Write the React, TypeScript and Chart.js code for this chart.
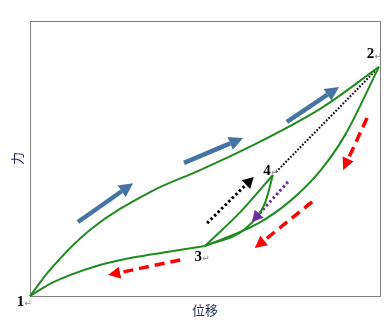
import React, { useEffect, useRef } from 'react';
import { Chart, registerables } from 'chart.js';
Chart.register(...registerables);

// ---- data (x: displacement 0..100, y: force 0..100) ----
const LOADING_CURVE: [number, number][] = [
  [0, 0], [5.7, 9.5], [17.1, 24], [34.3, 37.8], [48.6, 45.8], [64.9, 55.6],
  [83.7, 68.7], [99.7, 83.3],
];
const UNLOAD_3_TO_1: [number, number][] = [
  [0, 0], [5.7, 4.4], [11.4, 7.6], [20, 11.3], [29.4, 14], [39.1, 16], [50, 18.2],
];
const UNLOAD_2_TO_3: [number, number][] = [
  [50, 18.2], [64.9, 26.2], [74.3, 34.5], [82.9, 45.5], [90, 58.5], [99.7, 83.3],
];
const RELOAD_3_TO_4: [number, number][] = [[50, 18.2], [60, 30.4], [69.4, 44]];
const UNLOAD_4_TO_3: [number, number][] = [
  [50, 18.2], [61.4, 24.4], [67.2, 34], [69.4, 44],
];
const PATH_4_TO_2: [number, number][] = [[70.3, 45.1], [98.9, 82.2]];

// arrows: [tail, head base]
const BLUE_ARROWS: [number, number][][] = [
  [[13.7, 26.9], [26.2, 38.1]],
  [[44, 48.4], [57.2, 55.5]],
  [[73.4, 63.3], [85, 73.2]],
];
const RED_ARROWS: [number, number][][] = [
  [[96.3, 64.7], [90.9, 49.8]],
  [[80.6, 34.2], [66.9, 20.2]],
  [[42.9, 13.1], [25.7, 8.5]],
];
const BLACK_ARROW: [number, number][] = [[50.6, 26.5], [61.7, 40.5]];
const PURPLE_ARROW: [number, number][] = [[73.7, 41.5], [65.5, 29.9]];

const POINT_LABELS = ['1', '2', '3', '4'];
const POINT_LABEL_X = [-2.7, 97.3, 48.1, 67.7];
const POINT_LABEL_Y = [-2.2, 87.8, 14.2, 45.5];

const X_TITLE = '位移';
const Y_TITLE = '力';

const GREEN = '#1e8c1e';
const BLUE = '#4674a2';
const RED = '#ff0000';
const PURPLE = '#7030a0';
const TITLE_COLOR = '#1c2a5c';
const CJK = '"Noto Sans CJK SC", sans-serif';

const toXY = (arr: [number, number][]) => arr.map(([x, y]) => ({ x, y }));

const arrowPlugin = {
  id: 'arrowHeads',
  afterDatasetsDraw(chart: any) {
    const ctx = chart.ctx;
    chart.data.datasets.forEach((ds: any, i: number) => {
      const head = ds.head;
      if (!head) return;
      const pts = chart.getDatasetMeta(i).data;
      const a = pts[pts.length - 2];
      const b = pts[pts.length - 1];
      const dx = b.x - a.x, dy = b.y - a.y;
      const L = Math.hypot(dx, dy) || 1;
      const ux = dx / L, uy = dy / L;
      const tx = b.x + ux * head.len, ty = b.y + uy * head.len;
      const hw = head.width / 2;
      ctx.save();
      ctx.fillStyle = ds.borderColor;
      ctx.beginPath();
      ctx.moveTo(tx, ty);
      ctx.lineTo(b.x - uy * hw, b.y + ux * hw);
      ctx.lineTo(b.x + uy * hw, b.y - ux * hw);
      ctx.closePath();
      ctx.fill();
      ctx.restore();
    });
  },
};

const labelPlugin = {
  id: 'pointLabels',
  afterDraw(chart: any) {
    const ctx = chart.ctx;
    const sx = chart.scales.x, sy = chart.scales.y;
    ctx.save();
    POINT_LABELS.forEach((t, i) => {
      const px = sx.getPixelForValue(POINT_LABEL_X[i]);
      const py = sy.getPixelForValue(POINT_LABEL_Y[i]);
      ctx.font = 'bold 15px "Liberation Serif", serif';
      ctx.fillStyle = '#000';
      ctx.textAlign = 'center';
      ctx.textBaseline = 'middle';
      ctx.fillText(t, px, py);
      ctx.font = '9px "DejaVu Sans", sans-serif';
      ctx.fillStyle = '#8a8a8a';
      ctx.textAlign = 'left';
      ctx.fillText('\u21B5', px + 4, py + 2);
    });
    ctx.restore();
  },
};

const line = (data: [number, number][], color: string, width: number, extra: any = {}) => ({
  data: toXY(data),
  showLine: true,
  borderColor: color,
  backgroundColor: color,
  borderWidth: width,
  pointRadius: 0,
  clip: false,
  ...extra,
});

export default function App() {
  const ref = useRef<HTMLCanvasElement>(null);
  useEffect(() => {
    if (!ref.current) return;
    const smooth = { cubicInterpolationMode: 'monotone' };
    const datasets: any[] = [
      line(LOADING_CURVE, GREEN, 2, smooth),
      line(UNLOAD_3_TO_1, GREEN, 2, smooth),
      line(UNLOAD_2_TO_3, GREEN, 2, smooth),
      line(RELOAD_3_TO_4, GREEN, 2, smooth),
      line(UNLOAD_4_TO_3, GREEN, 2, smooth),
      line(PATH_4_TO_2, '#000', 2, { borderDash: [1.7, 1.7] }),
      ...BLUE_ARROWS.map((a) => line(a, BLUE, 4.5, { head: { len: 14, width: 14 } })),
      ...RED_ARROWS.map((a) => line(a, RED, 3.5, { borderDash: [10, 6], head: { len: 12, width: 12 } })),
      line(BLACK_ARROW, '#000', 3, { borderDash: [2.5, 2.5], head: { len: 11, width: 12 } }),
      line(PURPLE_ARROW, PURPLE, 3, { borderDash: [2.5, 2.5], head: { len: 11, width: 12 } }),
    ];
    const hiddenAxis = (position: string) => ({
      type: 'linear',
      position,
      display: true,
      ticks: { display: false },
      grid: { display: false, drawTicks: false },
      border: { display: true, color: '#808080', width: 1 },
    });
    const chart = new Chart(ref.current, {
      type: 'scatter',
      data: { datasets },
      options: {
        responsive: false,
        animation: false,
        layout: { padding: { left: 6.4, top: 21, right: 11, bottom: 4.4 } },
        plugins: { legend: { display: false }, tooltip: { enabled: false } },
        scales: {
          x: {
            ...hiddenAxis('bottom'),
            min: 0,
            max: 100,
            title: {
              display: true,
              text: X_TITLE,
              color: TITLE_COLOR,
              font: { family: CJK, size: 13 },
              padding: { top: 6, bottom: 2 },
            },
          },
          y: {
            ...hiddenAxis('left'),
            min: 0,
            max: 100,
            title: {
              display: true,
              text: Y_TITLE,
              color: TITLE_COLOR,
              font: { family: CJK, size: 13 },
              padding: { top: 3, bottom: 5 },
            },
          },
          x2: hiddenAxis('top'),
          y2: hiddenAxis('right'),
        },
      } as any,
      plugins: [arrowPlugin, labelPlugin],
    });
    return () => chart.destroy();
  }, []);
  return (
    <div style={{ position: 'fixed', left: 0, top: 0, width: 391, height: 324 }}>
      <canvas ref={ref} width={391} height={324} style={{ display: 'block' }} />
    </div>
  );
}
